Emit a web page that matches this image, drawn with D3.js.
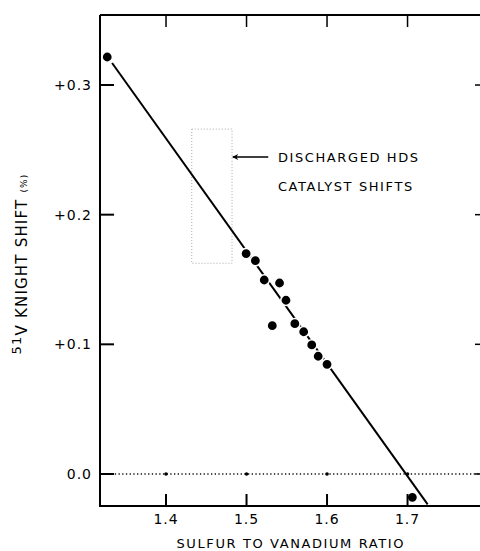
<!DOCTYPE html>
<html>
<head>
<meta charset="utf-8">
<script src="https://cdn.jsdelivr.net/npm/d3@7"></script>
<style>
    body { margin: 0; background: #fff; }
    svg { display: block; font-family: "DejaVu Sans", sans-serif; }
</style>
</head>
<body>
<div id="chart"></div>
<script>
// sulfur to vanadium ratio vs 51V knight shift (%)
const ratio = [1.327, 1.4995, 1.511, 1.522, 1.541, 1.549, 1.532, 1.560, 1.571, 1.581, 1.589, 1.600, 1.706];
const shift = [0.3216, 0.170, 0.1645, 0.1496, 0.1473, 0.134, 0.1144, 0.1159, 0.1097, 0.0995, 0.0908, 0.0846, -0.018];

// fitted line end points
const fitRatio = [1.333, 1.725];
const fitShift = [0.317, -0.0235];

// discharged catalyst box
const boxRatio = [1.432, 1.482];
const boxShift = [0.1625, 0.266];

const xTicks = [1.4, 1.5, 1.6, 1.7];
const xTickLabels = ["1.4", "1.5", "1.6", "1.7"];
const yTicks = [0.0, 0.1, 0.2, 0.3];
const yTickLabels = ["0.0", "+0.1", "+0.2", "+0.3"];

let margin = {
    top: 15,
    right: 0,
    bottom: 45,
    left: 100
};
let width = 480 - margin.left - margin.right;
let height = 551 - margin.top - margin.bottom;

const x = d3.scaleLinear().domain([1.318, 1.79]).range([0, width]);
const y = d3.scaleLinear().domain([-0.0247, 0.354]).range([height, 0]);

const svg = d3.select("#chart").append("svg")
    .attr("width", width + margin.left + margin.right)
    .attr("height", height + margin.top + margin.bottom);

const g = svg.append("g")
    .attr("transform", "translate(" + margin.left + "," + margin.top + ")");

// zero line, dotted with heavier dots at each tick
g.append("line")
    .attr("x1", 0).attr("x2", width)
    .attr("y1", y(0)).attr("y2", y(0))
    .attr("stroke", "#111")
    .attr("stroke-width", 1.3)
    .attr("stroke-dasharray", "1.3,2.4");
g.selectAll(".zdot")
    .data(xTicks)
    .enter().append("circle")
    .attr("class", "zdot")
    .attr("cx", d => x(d))
    .attr("cy", y(0))
    .attr("r", 1.8)
    .attr("fill", "#000");

// box round the discharged catalyst shifts
g.append("rect")
    .attr("x", x(boxRatio[0]))
    .attr("y", y(boxShift[1]))
    .attr("width", x(boxRatio[1]) - x(boxRatio[0]))
    .attr("height", y(boxShift[0]) - y(boxShift[1]))
    .attr("fill", "none")
    .attr("stroke", "#aaa")
    .attr("stroke-width", 1)
    .attr("stroke-dasharray", "1,2");

// fitted line
g.append("line")
    .attr("x1", x(fitRatio[0])).attr("y1", y(fitShift[0]))
    .attr("x2", x(fitRatio[1])).attr("y2", y(fitShift[1]))
    .attr("stroke", "#000")
    .attr("stroke-width", 2);

// points, with a white halo so the line breaks near them
g.selectAll(".pt")
    .data(ratio)
    .enter().append("circle")
    .attr("class", "pt")
    .attr("cx", d => x(d))
    .attr("cy", (d, i) => y(shift[i]))
    .attr("r", 5.2)
    .attr("fill", "#000")
    .attr("stroke", "#fff")
    .attr("stroke-width", 1.6);

// frame: left, bottom, top
g.append("path")
    .attr("d", "M0,0V" + height + "H" + width + "M0,0H" + width)
    .attr("fill", "none")
    .attr("stroke", "#000")
    .attr("stroke-width", 2);

// ticks pointing inward
g.selectAll(".ytick")
    .data(yTicks)
    .enter().append("line")
    .attr("x1", 0).attr("x2", 14)
    .attr("y1", d => y(d)).attr("y2", d => y(d))
    .attr("stroke", "#000")
    .attr("stroke-width", 2);
g.selectAll(".rtick")
    .data(yTicks)
    .enter().append("line")
    .attr("x1", width - 5).attr("x2", width)
    .attr("y1", d => y(d)).attr("y2", d => y(d))
    .attr("stroke", "#000")
    .attr("stroke-width", 1.5);
g.selectAll(".xtick")
    .data(xTicks)
    .enter().append("line")
    .attr("x1", d => x(d)).attr("x2", d => x(d))
    .attr("y1", height).attr("y2", height - 12)
    .attr("stroke", "#000")
    .attr("stroke-width", 2);
g.selectAll(".ttick")
    .data(xTicks)
    .enter().append("line")
    .attr("x1", d => x(d)).attr("x2", d => x(d))
    .attr("y1", 0).attr("y2", 12)
    .attr("stroke", "#000")
    .attr("stroke-width", 1.5);

// tick labels
g.selectAll(".ylab")
    .data(yTicks)
    .enter().append("text")
    .attr("x", -8)
    .attr("y", d => y(d))
    .attr("dy", "0.36em")
    .style("text-anchor", "end")
    .style("font-size", "14px")
    .style("letter-spacing", "1px")
    .text((d, i) => yTickLabels[i]);
g.selectAll(".xlab")
    .data(xTicks)
    .enter().append("text")
    .attr("x", d => x(d))
    .attr("y", height + 18)
    .style("text-anchor", "middle")
    .style("font-size", "14px")
    .style("letter-spacing", "1px")
    .text((d, i) => xTickLabels[i]);

// axis titles
g.append("text")
    .attr("x", x(1.555))
    .attr("y", height + 42)
    .style("text-anchor", "middle")
    .style("font-size", "13px")
    .style("letter-spacing", "1.6px")
    .text("SULFUR TO VANADIUM RATIO");

const ylab = g.append("text")
    .attr("transform", "translate(" + (-74) + "," + y(0.162) + ") rotate(-90)")
    .style("text-anchor", "middle")
    .style("font-size", "15px")
    .style("letter-spacing", "1.2px");
ylab.append("tspan").attr("dy", "-0.4em").style("font-size", "13px").text("51");
ylab.append("tspan").attr("dy", "0.4em").text("V KNIGHT SHIFT ");
ylab.append("tspan").style("font-size", "9px").text("(%)");

// annotation with arrow (tip at +x so it points along the line)
g.append("defs").append("marker")
    .attr("id", "arrow")
    .attr("viewBox", "0 0 10 10")
    .attr("refX", 9).attr("refY", 5)
    .attr("markerUnits", "userSpaceOnUse")
    .attr("markerWidth", 12).attr("markerHeight", 6)
    .attr("orient", "auto")
    .append("path")
    .attr("d", "M10,5L0,0L3,5L0,10Z")
    .attr("fill", "#000");
g.append("line")
    .attr("x1", x(1.527)).attr("y1", y(0.2445))
    .attr("x2", x(1.483)).attr("y2", y(0.2445))
    .attr("stroke", "#000")
    .attr("stroke-width", 1.5)
    .attr("marker-end", "url(#arrow)");
g.append("text")
    .attr("x", x(1.539))
    .attr("y", y(0.2445))
    .attr("dy", "0.38em")
    .style("font-size", "13px")
    .style("letter-spacing", "1.6px")
    .text("DISCHARGED HDS");
g.append("text")
    .attr("x", x(1.539))
    .attr("y", y(0.222))
    .attr("dy", "0.38em")
    .style("font-size", "13px")
    .style("letter-spacing", "1.6px")
    .text("CATALYST SHIFTS");
</script>
</body>
</html>
